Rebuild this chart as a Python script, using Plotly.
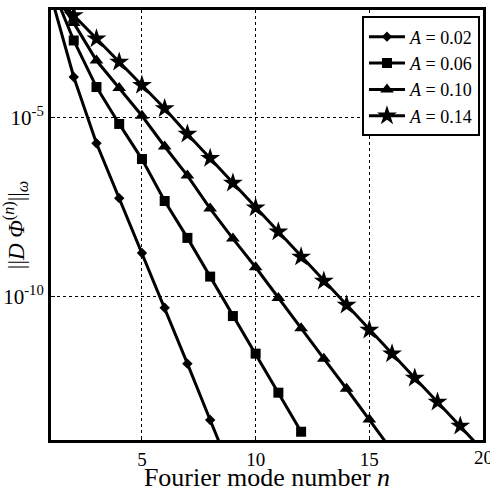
import plotly.graph_objects as go

n_02 = list(range(1, 10))
v_02 = [2.51e-2, 1.35e-4, 1.91e-6, 5.62e-8, 1.66e-9, 4.90e-11, 1.35e-12, 3.63e-14, 1.0e-15]

n_06 = list(range(1, 13))
v_06 = [5.01e-2, 1.41e-3, 7.08e-5, 6.61e-6, 6.92e-7, 4.68e-8, 4.37e-9, 3.63e-10,
        2.88e-11, 2.57e-12, 2.09e-13, 1.70e-14]

n_10 = list(range(1, 17))
v_10 = [3.98e-2, 4.37e-3, 3.89e-4, 6.61e-5, 1.12e-5, 1.55e-6, 2.40e-7, 2.88e-8,
        4.17e-9, 6.61e-10, 9.12e-11, 1.32e-11, 1.86e-12, 2.69e-13, 3.72e-14, 5.01e-15]

n_14 = list(range(1, 21))
v_14 = [3.16e-2, 7.08e-3, 1.58e-3, 3.55e-4, 7.94e-5, 1.78e-5, 3.47e-6, 7.24e-7,
        1.48e-7, 3.02e-8, 6.46e-9, 1.29e-9, 2.75e-10, 5.89e-11, 1.17e-11, 2.57e-12,
        5.37e-13, 1.15e-13, 2.45e-14, 5.01e-15]

series = [
    ("<i>A</i> = 0.02", n_02, v_02, "diamond", 8),
    ("<i>A</i> = 0.06", n_06, v_06, "square", 10),
    ("<i>A</i> = 0.10", n_10, v_10, "triangle-up", 12),
    ("<i>A</i> = 0.14", n_14, v_14, "star", 15),
]

x_ticks = [5, 10, 15]
x_last_tick = 20
y_ticks = [1e-5, 1e-10]
y_ticktext = ["10<sup>-5</sup>", "10<sup>-10</sup>"]

fig = go.Figure()
for name, xs, ys, sym, size in series:
    fig.add_trace(go.Scatter(
        x=xs, y=ys, name=name, mode="lines+markers",
        line=dict(color="black", width=3),
        marker=dict(symbol=sym, size=size, color="black"),
    ))

FONT = "'Liberation Serif', 'Times New Roman', Times, serif"
fig.update_layout(
    template="none",
    width=490, height=492,
    margin=dict(l=51, r=7, t=10, b=52),
    plot_bgcolor="white", paper_bgcolor="white",
    font=dict(family=FONT, color="black", size=19),
    showlegend=True,
    legend=dict(
        x=0.993, y=0.985, xanchor="right", yanchor="top",
        bordercolor="black", borderwidth=2, bgcolor="white",
        font=dict(family=FONT, size=18),
        tracegroupgap=0, itemwidth=36,
    ),
)
fig.add_annotation(
    x=x_last_tick, y=0, xref="x", yref="paper", yanchor="top",
    text=str(x_last_tick), showarrow=False, yshift=-5,
    font=dict(family=FONT, size=19, color="black"),
)
fig.update_xaxes(
    range=[1, 20], tickvals=x_ticks,
    showgrid=True, gridcolor="black", griddash="dot", gridwidth=1,
    showline=True, linecolor="black", linewidth=3, mirror=True,
    ticks="inside", ticklen=4, tickcolor="black",
    tickfont=dict(family=FONT, size=19),
    title=dict(text="Fourier mode number <i>n</i>", font=dict(family=FONT, size=26), standoff=4),
    zeroline=False,
)
fig.update_yaxes(
    type="log", range=[-14, -2],
    tickvals=y_ticks, ticktext=y_ticktext,
    showgrid=True, gridcolor="black", griddash="dot", gridwidth=1,
    showline=True, linecolor="black", linewidth=3, mirror=True,
    ticks="inside", ticklen=4, tickcolor="black",
    tickfont=dict(family=FONT, size=21),
    title=dict(text="||<i>D Φ</i><sup>(<i>n</i>)</sup>||<sub><i>ω</i></sub>",
               font=dict(family=FONT, size=23), standoff=0),
    zeroline=False,
)
fig.write_html("out.html")
